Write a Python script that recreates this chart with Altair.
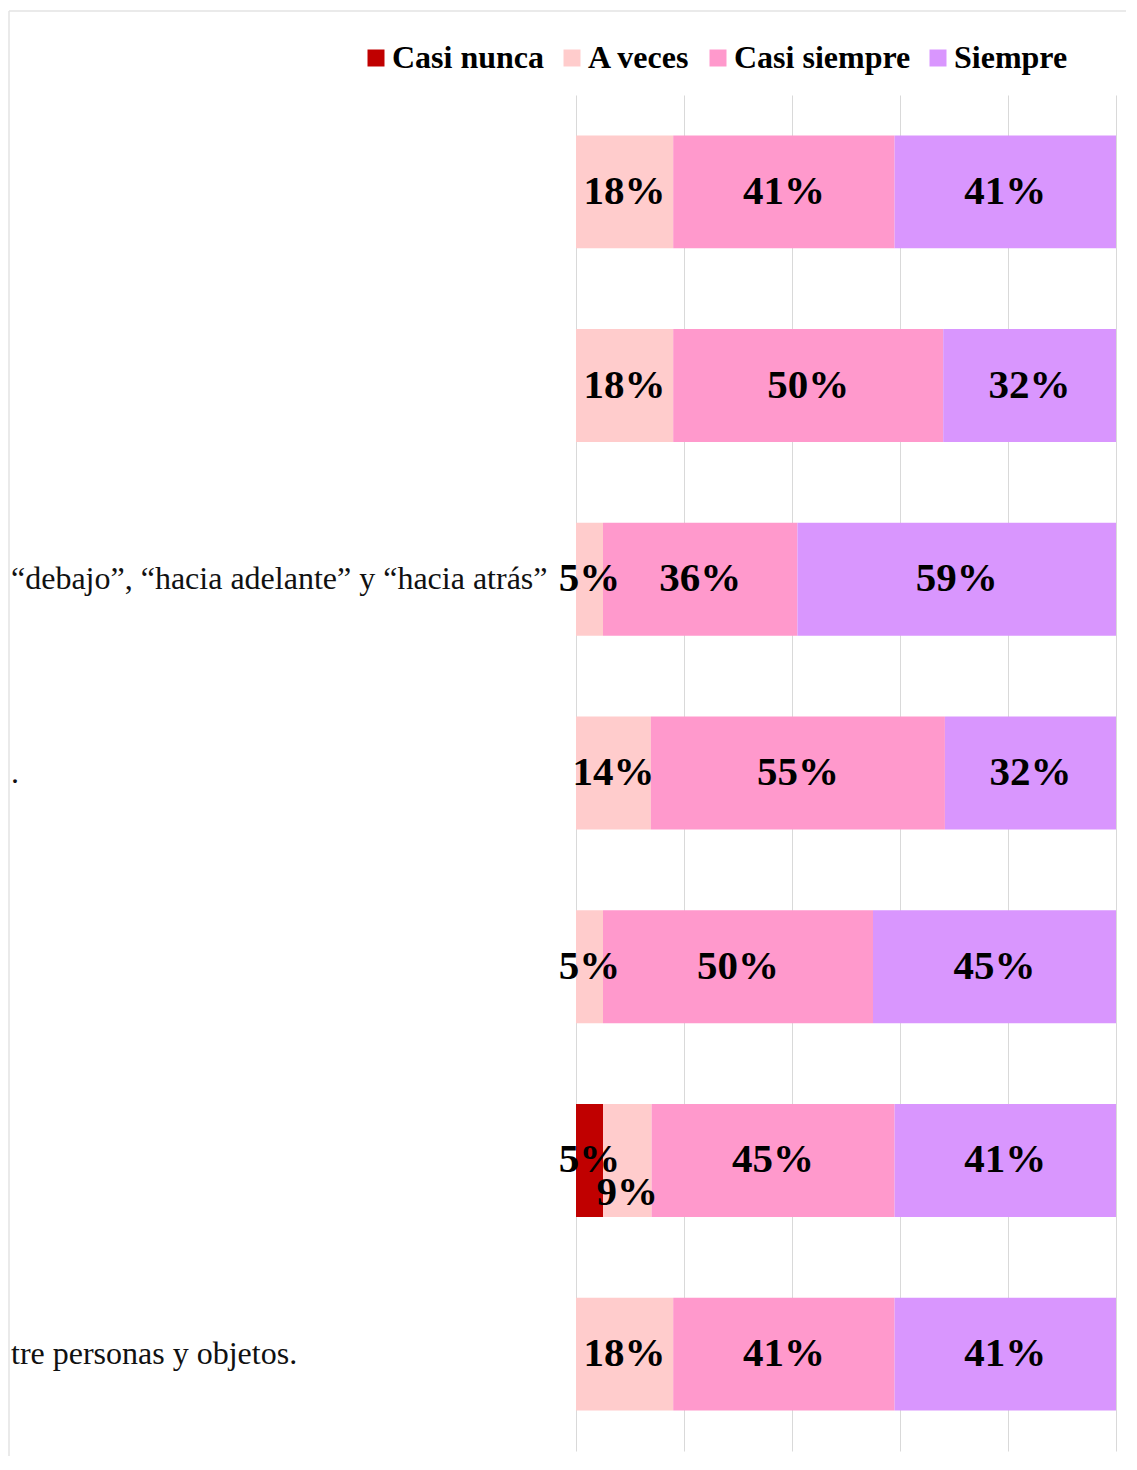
import altair as alt
import pandas as pd

items = ["P1", "P2", "P3", "P4", "P5", "P6", "P7"]
item_labels = ["", "", "“debajo”, “hacia adelante” y “hacia atrás”", ".", "", "",
               "tre personas y objetos."]
categories = ["Casi nunca", "A veces", "Casi siempre", "Siempre"]
colors = ["#C00000", "#FFCCCC", "#FF99CC", "#D996FE"]

casi_nunca = [0, 0, 0, 0, 0, 5, 0]
a_veces = [18, 18, 5, 14, 5, 9, 18]
casi_siempre = [41, 50, 36, 55, 50, 45, 41]
siempre = [41, 32, 59, 32, 45, 41, 41]

series = [casi_nunca, a_veces, casi_siempre, siempre]
rows = []
for i, it in enumerate(items):
    vals = [s[i] for s in series]
    total = sum(vals)
    cum = 0.0
    for c, v in zip(categories, vals):
        start = cum / total * 100
        cum += v
        end = cum / total * 100
        rows.append({"item": it, "cat": c, "value": v, "start": start, "end": end,
                     "mid": (start + end) / 2, "txt": f"{v}%"})
df = pd.DataFrame(rows)
lab_df = pd.DataFrame({"item": items, "label": item_labels})

FONT = "Liberation Serif"
xscale = alt.Scale(domain=[0, 100], nice=False, zero=True)
yscale = alt.Scale(paddingInner=0.417, paddingOuter=0.2085)
ysort = items

base = alt.Chart(df).transform_filter("datum.value > 0")

bars = base.mark_bar().encode(
    x=alt.X("start:Q", scale=xscale,
            axis=alt.Axis(values=[0, 20, 40, 60, 80, 100], grid=True, labels=False,
                          ticks=False, domain=False, title=None,
                          gridColor="#D9D9D9", gridWidth=1)),
    x2="end:Q",
    y=alt.Y("item:N", sort=ysort, scale=yscale, axis=None),
    color=alt.Color("cat:N", scale=alt.Scale(domain=categories, range=colors),
                    legend=alt.Legend(orient="none", legendX=-216, legendY=-53,
                                      direction="horizontal", title=None,
                                      labelFont=FONT, labelFontWeight="bold",
                                      labelFontSize=32, labelColor="black",
                                      symbolType="square", symbolSize=289,
                                      symbolStrokeWidth=0, labelOffset=0,
                                      columnPadding=11, labelLimit=400)),
)

text_main = base.transform_filter(
    "!(datum.item == 'P6' && datum.cat == 'A veces')"
).mark_text(font=FONT, fontWeight="bold", fontSize=41, color="black",
            baseline="middle", align="center").encode(
    x=alt.X("mid:Q", scale=xscale),
    y=alt.Y("item:N", sort=ysort, scale=yscale),
    text="txt:N",
)

text_shift = base.transform_filter(
    "datum.item == 'P6' && datum.cat == 'A veces'"
).mark_text(font=FONT, fontWeight="bold", fontSize=41, color="black",
            baseline="middle", align="center", dy=33).encode(
    x=alt.X("mid:Q", scale=xscale),
    y=alt.Y("item:N", sort=ysort, scale=yscale),
    text="txt:N",
)

cat_labels = alt.Chart(lab_df).mark_text(
    font=FONT, fontSize=32, color="#111111", align="left", baseline="middle"
).encode(
    x=alt.value(-565),
    y=alt.Y("item:N", sort=ysort, scale=yscale),
    text="label:N",
)

frame_df = pd.DataFrame({"a": [0]})
frame_top = alt.Chart(frame_df).mark_rule(color="#E3E3E3", strokeWidth=1.5).encode(
    x=alt.value(-567), x2=alt.value(570), y=alt.value(-84))
frame_left = alt.Chart(frame_df).mark_rule(color="#E3E3E3", strokeWidth=1.5).encode(
    x=alt.value(-567), y=alt.value(-84), y2=alt.value(1400))

chart = alt.layer(frame_top, frame_left, bars, text_main, text_shift, cat_labels).properties(
    width=540, height=1356,
    autosize=alt.AutoSizeParams(type="none"),
    padding={"left": 568, "top": 87, "right": 10, "bottom": 5},
).configure_view(stroke=None)

chart.save("out.html", embed_options={"renderer": "svg", "actions": False})
